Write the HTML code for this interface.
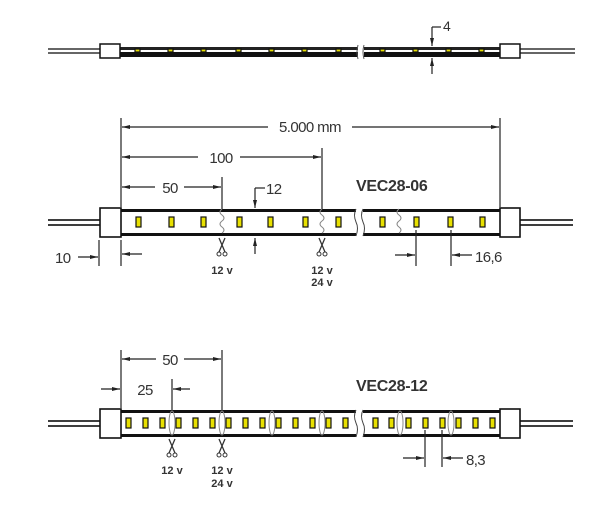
<!DOCTYPE html>
<html><head><meta charset="utf-8"><style>
html,body{margin:0;padding:0;background:#fff;width:600px;height:506px;overflow:hidden}
svg{display:block}
text{font-family:"Liberation Sans",sans-serif;fill:#333}
.d{stroke:#222;stroke-width:1.2;fill:none}
.led{fill:#e8e000;stroke:#111;stroke-width:1.2}
.cut{stroke:#888;stroke-width:1;fill:none}
.t{font-size:15px;letter-spacing:-0.6px}
</style></head><body>
<svg width="600" height="506" viewBox="0 0 600 506" xmlns="http://www.w3.org/2000/svg">
<defs>
<marker id="a" markerWidth="8" markerHeight="6" refX="8" refY="3" orient="auto" markerUnits="userSpaceOnUse"><path d="M0,1 L8,3 L0,5 z" fill="#222"/></marker>
<g id="sc"><path d="M-3,-8 L3,6 M3,-8 L-3,6" stroke="#333" stroke-width="1.3"/><circle cx="-3" cy="8" r="2" fill="none" stroke="#333"/><circle cx="3" cy="8" r="2" fill="none" stroke="#333"/></g>
<g id="cw"><path d="M0,-13 q-4,3 0,6 q4,3 0,6 q-4,3 0,6 q4,3 0,6" stroke="#888" fill="none"/></g>
</defs>

<!-- TOP STRIP -->
<g>
<line x1="48" y1="49" x2="100" y2="49" stroke="#333" stroke-width="1.5"/>
<line x1="48" y1="53" x2="100" y2="53" stroke="#333" stroke-width="1.5"/>
<line x1="520" y1="49" x2="575" y2="49" stroke="#333" stroke-width="1.5"/>
<line x1="520" y1="53" x2="575" y2="53" stroke="#333" stroke-width="1.5"/>
<rect x="120" y="47" width="238" height="3" fill="#222"/>
<rect x="120" y="52" width="238" height="5" fill="#111"/>
<rect x="364" y="47" width="136" height="3" fill="#222"/>
<rect x="364" y="52" width="136" height="5" fill="#111"/>
<g class="led">
<rect x="135" y="49" width="5" height="3"/><rect x="168" y="49" width="5" height="3"/><rect x="201" y="49" width="5" height="3"/><rect x="236" y="49" width="5" height="3"/><rect x="269" y="49" width="5" height="3"/><rect x="302" y="49" width="5" height="3"/><rect x="336" y="49" width="5" height="3"/><rect x="380" y="49" width="5" height="3"/><rect x="413" y="49" width="5" height="3"/><rect x="446" y="49" width="5" height="3"/><rect x="479" y="49" width="5" height="3"/>
</g>
<path d="M358,45 q-2,7 0,14 M364,45 q-2,7 0,14" stroke="#555" fill="none"/>
<rect x="100" y="44" width="20" height="14" fill="#fff" stroke="#111" stroke-width="1.5"/>
<rect x="500" y="44" width="20" height="14" fill="#fff" stroke="#111" stroke-width="1.5"/>
<line x1="432" y1="27" x2="432" y2="46" class="d" marker-end="url(#a)"/>
<line x1="432" y1="27" x2="441" y2="27" class="d"/>
<line x1="432" y1="74" x2="432" y2="58" class="d" marker-end="url(#a)"/>
<text x="443" y="31" font-size="14" fill="#335">4</text>
</g>

<!-- MIDDLE STRIP -->
<g>
<line x1="48" y1="220" x2="100" y2="220" stroke="#222" stroke-width="1.8"/>
<line x1="48" y1="225" x2="100" y2="225" stroke="#222" stroke-width="1.8"/>
<line x1="520" y1="220" x2="573" y2="220" stroke="#222" stroke-width="1.8"/>
<line x1="520" y1="225" x2="573" y2="225" stroke="#222" stroke-width="1.8"/>
<rect x="120" y="209" width="236" height="3" fill="#111"/>
<rect x="120" y="233" width="236" height="3" fill="#111"/>
<rect x="363" y="209" width="137" height="3" fill="#111"/>
<rect x="363" y="233" width="137" height="3" fill="#111"/>
<path d="M356,209 q-3,6 0,13 q3,6 0,14 M363,209 q-3,6 0,13 q3,6 0,14" stroke="#444" fill="none"/>
<g class="led">
<rect x="136" y="217" width="5" height="10"/><rect x="169" y="217" width="5" height="10"/><rect x="201" y="217" width="5" height="10"/><rect x="237" y="217" width="5" height="10"/><rect x="268" y="217" width="5" height="10"/><rect x="303" y="217" width="5" height="10"/><rect x="336" y="217" width="5" height="10"/><rect x="380" y="217" width="5" height="10"/><rect x="414" y="217" width="5" height="10"/><rect x="448" y="217" width="5" height="10"/><rect x="480" y="217" width="5" height="10"/>
</g>
<use href="#cw" x="222" y="222"/><use href="#cw" x="322" y="222"/><use href="#cw" x="399" y="222"/>
<rect x="100" y="208" width="21" height="29" fill="#fff" stroke="#111" stroke-width="1.6"/>
<rect x="500" y="208" width="20" height="29" fill="#fff" stroke="#111" stroke-width="1.6"/>
<line x1="121" y1="118" x2="121" y2="207" class="d"/>
<line x1="500" y1="118" x2="500" y2="207" class="d"/>
<line x1="268" y1="127" x2="122" y2="127" class="d" marker-end="url(#a)"/>
<line x1="352" y1="127" x2="499" y2="127" class="d" marker-end="url(#a)"/>
<text x="310" y="132" class="t" text-anchor="middle">5.000 mm</text>
<line x1="322" y1="148" x2="322" y2="209" class="d"/>
<line x1="198" y1="157" x2="122" y2="157" class="d" marker-end="url(#a)"/>
<line x1="240" y1="157" x2="321" y2="157" class="d" marker-end="url(#a)"/>
<text x="221" y="163" class="t" text-anchor="middle">100</text>
<line x1="222" y1="177" x2="222" y2="209" class="d"/>
<line x1="155" y1="187" x2="122" y2="187" class="d" marker-end="url(#a)"/>
<line x1="184" y1="187" x2="221" y2="187" class="d" marker-end="url(#a)"/>
<text x="170" y="193" class="t" text-anchor="middle">50</text>
<line x1="255" y1="188" x2="255" y2="208" class="d" marker-end="url(#a)"/>
<line x1="255" y1="188" x2="265" y2="188" class="d"/>
<text x="266" y="194" class="t">12</text>
<line x1="255" y1="254" x2="255" y2="238" class="d" marker-end="url(#a)"/>
<line x1="99" y1="240" x2="99" y2="266" class="d"/>
<line x1="121" y1="240" x2="121" y2="266" class="d"/>
<line x1="78" y1="257" x2="98" y2="257" class="d" marker-end="url(#a)"/>
<line x1="142" y1="254" x2="122" y2="254" class="d" marker-end="url(#a)"/>
<text x="55" y="263" class="t">10</text>
<use href="#sc" x="222" y="246"/><use href="#sc" x="322" y="246"/>
<text x="222" y="274" font-size="11" text-anchor="middle" fill="#3a2a55" font-weight="bold">12 v</text>
<text x="322" y="274" font-size="11" text-anchor="middle" fill="#3a2a55" font-weight="bold">12 v</text>
<text x="322" y="286" font-size="11" text-anchor="middle" fill="#3d5a80" font-weight="bold">24 v</text>
<text x="356" y="191" font-size="16" font-weight="bold" fill="#111" letter-spacing="-0.3">VEC28-06</text>
<line x1="416" y1="230" x2="416" y2="266" class="d"/>
<line x1="451" y1="230" x2="451" y2="266" class="d"/>
<line x1="395" y1="255" x2="415" y2="255" class="d" marker-end="url(#a)"/>
<line x1="472" y1="255" x2="452" y2="255" class="d" marker-end="url(#a)"/>
<text x="475" y="262" class="t">16,6</text>
</g>

<!-- BOTTOM STRIP -->
<g>
<line x1="48" y1="421" x2="100" y2="421" stroke="#222" stroke-width="1.8"/>
<line x1="48" y1="426" x2="100" y2="426" stroke="#222" stroke-width="1.8"/>
<line x1="520" y1="421" x2="573" y2="421" stroke="#222" stroke-width="1.8"/>
<line x1="520" y1="426" x2="573" y2="426" stroke="#222" stroke-width="1.8"/>
<rect x="120" y="410" width="236" height="3" fill="#111"/>
<rect x="120" y="434" width="236" height="3" fill="#111"/>
<rect x="363" y="410" width="137" height="3" fill="#111"/>
<rect x="363" y="434" width="137" height="3" fill="#111"/>
<path d="M356,410 q-3,6 0,13 q3,6 0,14 M363,410 q-3,6 0,13 q3,6 0,14" stroke="#444" fill="none"/>
<g class="led">
<rect x="126" y="418" width="5" height="10"/><rect x="143" y="418" width="5" height="10"/><rect x="160" y="418" width="5" height="10"/><rect x="176" y="418" width="5" height="10"/><rect x="193" y="418" width="5" height="10"/><rect x="210" y="418" width="5" height="10"/><rect x="226" y="418" width="5" height="10"/><rect x="243" y="418" width="5" height="10"/><rect x="260" y="418" width="5" height="10"/><rect x="276" y="418" width="5" height="10"/><rect x="293" y="418" width="5" height="10"/><rect x="310" y="418" width="5" height="10"/><rect x="326" y="418" width="5" height="10"/><rect x="343" y="418" width="5" height="10"/>
<rect x="373" y="418" width="5" height="10"/><rect x="389" y="418" width="5" height="10"/><rect x="406" y="418" width="5" height="10"/><rect x="423" y="418" width="5" height="10"/><rect x="440" y="418" width="5" height="10"/><rect x="456" y="418" width="5" height="10"/><rect x="473" y="418" width="5" height="10"/><rect x="490" y="418" width="5" height="10"/>
</g>
<g class="cut">
<ellipse cx="172" cy="423" rx="3" ry="12"/><ellipse cx="222" cy="423" rx="3" ry="12"/><ellipse cx="272" cy="423" rx="3" ry="12"/><ellipse cx="322" cy="423" rx="3" ry="12"/><ellipse cx="400" cy="423" rx="3" ry="12"/><ellipse cx="451" cy="423" rx="3" ry="12"/>
</g>
<rect x="100" y="409" width="21" height="29" fill="#fff" stroke="#111" stroke-width="1.6"/>
<rect x="500" y="409" width="20" height="29" fill="#fff" stroke="#111" stroke-width="1.6"/>
<line x1="121" y1="350" x2="121" y2="408" class="d"/>
<line x1="222" y1="350" x2="222" y2="410" class="d"/>
<line x1="156" y1="359" x2="122" y2="359" class="d" marker-end="url(#a)"/>
<line x1="184" y1="359" x2="221" y2="359" class="d" marker-end="url(#a)"/>
<text x="170" y="365" class="t" text-anchor="middle">50</text>
<line x1="172" y1="379" x2="172" y2="410" class="d"/>
<line x1="101" y1="389" x2="120" y2="389" class="d" marker-end="url(#a)"/>
<line x1="190" y1="389" x2="173" y2="389" class="d" marker-end="url(#a)"/>
<text x="145" y="395" class="t" text-anchor="middle">25</text>
<use href="#sc" x="172" y="447"/><use href="#sc" x="222" y="447"/>
<text x="172" y="474" font-size="11" text-anchor="middle" fill="#3a2a55" font-weight="bold">12 v</text>
<text x="222" y="474" font-size="11" text-anchor="middle" fill="#3a2a55" font-weight="bold">12 v</text>
<text x="222" y="487" font-size="11" text-anchor="middle" fill="#3d5a80" font-weight="bold">24 v</text>
<text x="356" y="391" font-size="16" font-weight="bold" fill="#111" letter-spacing="-0.3">VEC28-12</text>
<line x1="425" y1="430" x2="425" y2="467" class="d"/>
<line x1="442" y1="430" x2="442" y2="467" class="d"/>
<line x1="403" y1="458" x2="424" y2="458" class="d" marker-end="url(#a)"/>
<line x1="463" y1="458" x2="443" y2="458" class="d" marker-end="url(#a)"/>
<text x="466" y="465" class="t">8,3</text>
</g>
</svg>
</body></html>
